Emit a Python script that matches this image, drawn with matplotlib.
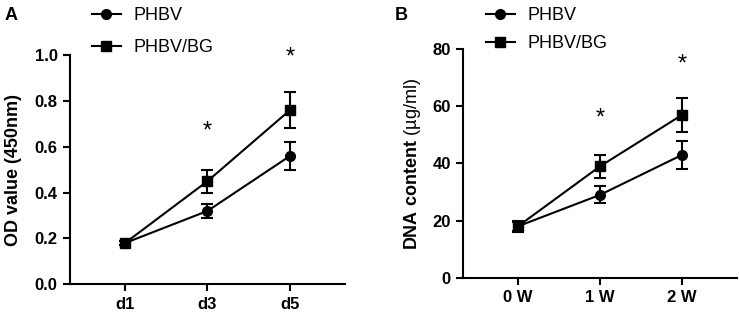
import matplotlib.pyplot as plt
from matplotlib.lines import Line2D

plt.rcParams['font.family'] = ['Liberation Sans', 'DejaVu Sans']
plt.rcParams['mathtext.fontset'] = 'custom'
plt.rcParams['mathtext.bf'] = 'Liberation Sans:bold'
plt.rcParams['mathtext.rm'] = 'Liberation Sans'

# Panel A: cell proliferation (CCK-8)
days = ["d1", "d3", "d5"]
od_phbv = [0.18, 0.32, 0.56]
od_phbv_err = [0.01, 0.03, 0.06]
od_bg = [0.18, 0.45, 0.76]
od_bg_err = [0.01, 0.05, 0.08]
od_star_y = [None, 0.665, 0.99]

# Panel B: DNA content
weeks = ["0 W", "1 W", "2 W"]
dna_phbv = [18, 29, 43]
dna_phbv_err = [1.5, 3, 5]
dna_bg = [18, 39, 57]
dna_bg_err = [2, 4, 6]
dna_star_y = [None, 55.8, 74.5]

fig = plt.figure(figsize=(7.4, 3.13), dpi=100)
axA = fig.add_axes([0.0946, 0.0917, 0.3716, 0.7323])
axB = fig.add_axes([0.626, 0.1128, 0.3695, 0.7297])

def draw(ax, cats, y1, e1, y2, e2, stars, ylim, yticks, fmt):
    x = list(range(len(cats)))
    ax.errorbar(x, y1, yerr=e1, color='black', marker='o', ms=7, lw=1.5,
                capsize=4.5, capthick=1.5, elinewidth=1.5)
    ax.errorbar(x, y2, yerr=e2, color='black', marker='s', ms=7.5, lw=1.5,
                capsize=4.5, capthick=1.5, elinewidth=1.5)
    for xi, s in zip(x, stars):
        if s is not None:
            ax.text(xi, s, '*', ha='center', va='center', fontsize=17)
    ax.set_xlim(-0.667, 2.667)
    ax.set_ylim(*ylim)
    ax.set_yticks(yticks)
    ax.set_yticklabels([fmt.format(v) for v in yticks], fontweight='bold', fontsize=12)
    ax.set_xticks(x)
    ax.set_xticklabels(cats, fontweight='bold', fontsize=12)
    for sp in ['top', 'right']:
        ax.spines[sp].set_visible(False)
    for sp in ['left', 'bottom']:
        ax.spines[sp].set_linewidth(1.5)
    ax.tick_params(width=1.5, length=5, pad=4)

draw(axA, days, od_phbv, od_phbv_err, od_bg, od_bg_err, od_star_y,
     (0, 1.0), [0.0, 0.2, 0.4, 0.6, 0.8, 1.0], '{:.1f}')
draw(axB, weeks, dna_phbv, dna_phbv_err, dna_bg, dna_bg_err, dna_star_y,
     (0, 80), [0, 20, 40, 60, 80], '{:d}')

axA.set_ylabel('OD value (450nm)', fontweight='bold', fontsize=13, labelpad=9)
axB.set_ylabel(r'$\mathbf{DNA\ content}$ (µg/ml)', fontsize=13, labelpad=7)

handles = [Line2D([], [], color='black', marker='o', ms=7, lw=1.5),
           Line2D([], [], color='black', marker='s', ms=7.5, lw=1.5)]
labels = ['PHBV', 'PHBV/BG']

axA.legend(handles, labels, loc='upper left', bbox_to_anchor=(92 / 740, 1 - 7 / 313),
           bbox_transform=fig.transFigure, frameon=False, fontsize=13,
           borderpad=0, borderaxespad=0, handlelength=1.6, handletextpad=0.7,
           labelspacing=0.85)
axB.legend(handles, labels, loc='upper left', bbox_to_anchor=(486 / 740, 1 - 7 / 313),
           bbox_transform=fig.transFigure, frameon=False, fontsize=13,
           borderpad=0, borderaxespad=0, handlelength=1.6, handletextpad=0.7,
           labelspacing=0.6)

fig.text(5 / 740, 1 - 15 / 313, 'A', fontweight='bold', fontsize=13, va='center')
fig.text(395 / 740, 1 - 15 / 313, 'B', fontweight='bold', fontsize=13, va='center')

fig.savefig('out.png', dpi=100)
